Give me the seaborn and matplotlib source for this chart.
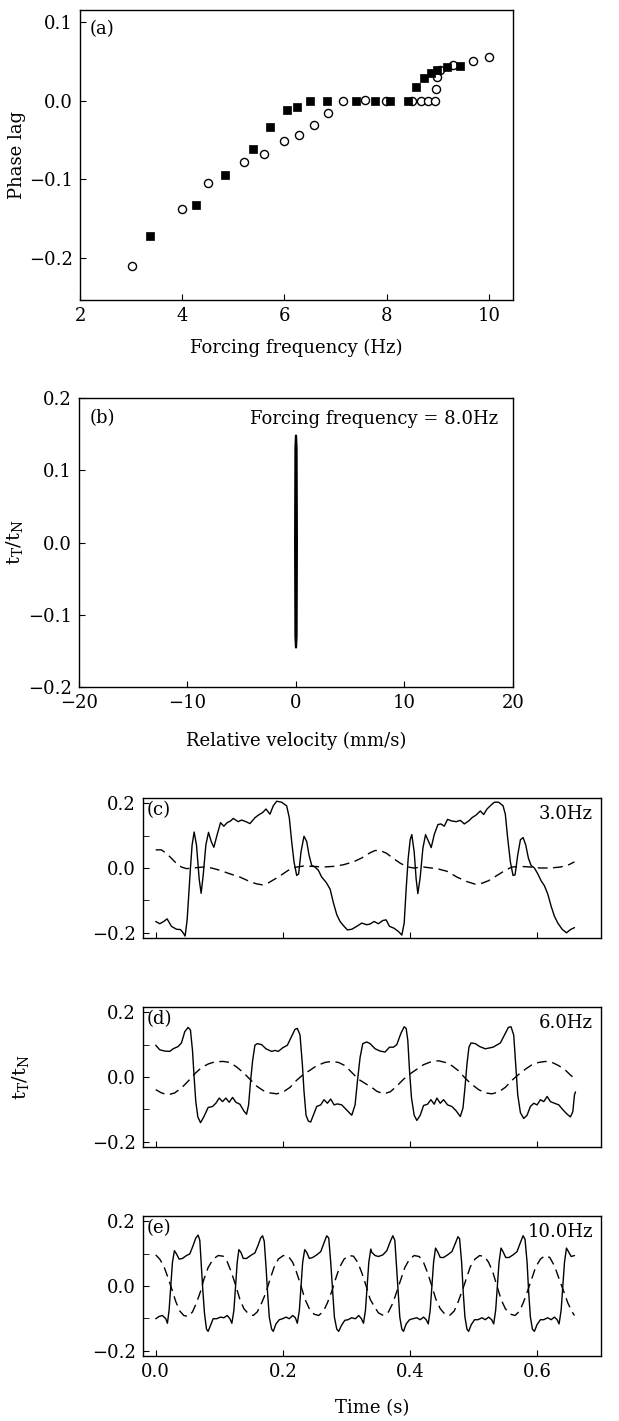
import numpy as np
import pandas as pd
import matplotlib
matplotlib.use("Agg")
import matplotlib.pyplot as plt
import seaborn as sns

# ---------------- data: panel (a) ----------------
freq_open = [3.01, 4.00, 4.50, 5.20, 5.60, 6.00, 6.28, 6.58, 6.85, 7.14, 7.58, 7.99,
             8.50, 8.67, 8.80, 8.94, 8.96, 8.98, 9.04, 9.30, 9.69, 10.00]
lag_open = [-0.210, -0.137, -0.104, -0.078, -0.068, -0.051, -0.043, -0.031, -0.016, 0.000,
            0.001, 0.000, 0.000, 0.000, 0.000, 0.000, 0.015, 0.030, 0.039, 0.045, 0.050, 0.055]
freq_filled = [3.37, 4.27, 4.83, 5.39, 5.71, 6.04, 6.25, 6.49, 6.83, 7.39, 7.77, 8.07,
               8.41, 8.57, 8.72, 8.86, 8.99, 9.17, 9.43]
lag_filled = [-0.172, -0.132, -0.095, -0.062, -0.033, -0.012, -0.008, 0.000, 0.000, 0.000,
              0.000, 0.000, 0.000, 0.017, 0.029, 0.035, 0.039, 0.043, 0.044]

# ---------------- data: panel (b) ----------------
vel_b = [0.00, 0.05, 0.08, 0.05, 0.00, -0.05, -0.08, -0.05, 0.00]
ratio_b = [-0.145, -0.130, 0.000, 0.130, 0.148, 0.130, 0.000, -0.130, -0.145]

# ---------------- data: panel (c) 3.0 Hz ----------------
t_c = [0.0000, 0.0063, 0.0126, 0.0179, 0.0247, 0.0326, 0.0389, 0.0431, 0.0462, 0.0494,
       0.0525, 0.0546, 0.0572, 0.0604, 0.0641, 0.0683, 0.0714, 0.0746, 0.0788, 0.0830,
       0.0872, 0.0914, 0.0966, 0.1019, 0.1071, 0.1124, 0.1176, 0.1218, 0.1297, 0.1349,
       0.1418, 0.1481, 0.1559, 0.1612, 0.1680, 0.1733, 0.1796, 0.1848, 0.1901, 0.1979,
       0.2058, 0.2100, 0.2137, 0.2174, 0.2216, 0.2247, 0.2284, 0.2331, 0.2373, 0.2410,
       0.2452, 0.2504, 0.2557, 0.2609, 0.2678, 0.2741, 0.2793, 0.2846, 0.2898, 0.2961,
       0.3014, 0.3082, 0.3161, 0.3239, 0.3318,
       0.3370, 0.3433, 0.3501, 0.3570, 0.3622, 0.3675, 0.3748, 0.3816, 0.3869, 0.3906,
       0.3937, 0.3969, 0.4000, 0.4026, 0.4063, 0.4094, 0.4121, 0.4158, 0.4200, 0.4242,
       0.4289, 0.4331, 0.4378, 0.4436, 0.4483, 0.4536, 0.4588, 0.4656, 0.4725, 0.4788,
       0.4851, 0.4919, 0.4971, 0.5040, 0.5103, 0.5155, 0.5208, 0.5260, 0.5323, 0.5391,
       0.5460, 0.5496, 0.5533, 0.5575, 0.5617, 0.5649, 0.5691, 0.5733, 0.5775, 0.5817,
       0.5859, 0.5901, 0.5953, 0.6006, 0.6058, 0.6111, 0.6163, 0.6216, 0.6268, 0.6321,
       0.6389, 0.6457, 0.6520, 0.6583]
solid_c = [-0.165, -0.172, -0.165, -0.157, -0.180, -0.189, -0.190, -0.200, -0.210, -0.160,
           -0.065, 0.000, 0.071, 0.111, 0.071, -0.034, -0.078, -0.023, 0.071, 0.110,
           0.082, 0.064, 0.103, 0.140, 0.129, 0.140, 0.145, 0.153, 0.143, 0.148,
           0.143, 0.137, 0.155, 0.163, 0.171, 0.182, 0.166, 0.192, 0.206, 0.203,
           0.192, 0.155, 0.082, 0.019, -0.023, -0.018, 0.050, 0.098, 0.082, 0.040,
           0.008, 0.003, -0.007, -0.028, -0.044, -0.065, -0.107, -0.144, -0.165, -0.180,
           -0.191, -0.189, -0.180, -0.170, -0.175,
           -0.173, -0.165, -0.172, -0.162, -0.160, -0.180, -0.186, -0.196, -0.207, -0.170,
           -0.065, 0.030, 0.087, 0.103, 0.050, -0.034, -0.079, -0.028, 0.061, 0.103,
           0.082, 0.063, 0.103, 0.134, 0.136, 0.129, 0.150, 0.145, 0.143, 0.147,
           0.136, 0.145, 0.155, 0.164, 0.176, 0.165, 0.182, 0.192, 0.203, 0.203,
           0.192, 0.166, 0.092, 0.019, -0.023, -0.021, 0.040, 0.087, 0.094, 0.071,
           0.030, 0.008, 0.000, -0.018, -0.039, -0.055, -0.080, -0.118, -0.149, -0.170,
           -0.189, -0.200, -0.190, -0.184]
t_c_dash = [0.0000, 0.0089, 0.0168, 0.0247, 0.0326, 0.0404, 0.0483, 0.0588, 0.0746, 0.0877,
            0.1008, 0.1166, 0.1323, 0.1481, 0.1586, 0.1680, 0.1769, 0.1874, 0.1979, 0.2084,
            0.2189, 0.2321, 0.2478, 0.2636, 0.2793, 0.2951, 0.3108, 0.3239,
            0.3370, 0.3449, 0.3528, 0.3633, 0.3738, 0.3843, 0.3948, 0.4053, 0.4210, 0.4420,
            0.4578, 0.4735, 0.4893, 0.5024, 0.5129, 0.5234, 0.5365, 0.5496, 0.5601, 0.5733,
            0.5890, 0.6048, 0.6205, 0.6363, 0.6494, 0.6583]
dash_c = [0.056, 0.056, 0.045, 0.030, 0.014, 0.003, -0.002, 0.000, 0.003, 0.000,
          -0.007, -0.018, -0.028, -0.042, -0.049, -0.052, -0.046, -0.034, -0.021, -0.007,
          0.002, 0.006, 0.005, 0.003, 0.005, 0.010, 0.019, 0.031,
          0.047, 0.054, 0.054, 0.045, 0.029, 0.015, 0.004, 0.000, 0.003, -0.002,
          -0.010, -0.028, -0.042, -0.050, -0.047, -0.039, -0.023, -0.007, 0.003, 0.005,
          0.003, 0.000, 0.000, 0.003, 0.010, 0.019]

# ---------------- data: panel (d) 6.0 Hz ----------------
t_d = [0.0000, 0.0063, 0.0142, 0.0221, 0.0273, 0.0352, 0.0404, 0.0457, 0.0509, 0.0546,
       0.0578, 0.0604, 0.0630, 0.0662, 0.0704, 0.0756, 0.0824, 0.0893, 0.0945, 0.0998,
       0.1050, 0.1103, 0.1155, 0.1208, 0.1260, 0.1323, 0.1386, 0.1428, 0.1460, 0.1491,
       0.1523, 0.1559, 0.1596, 0.1664, 0.1733, 0.1822, 0.1874, 0.1927, 0.1995, 0.2069,
       0.2137, 0.2189, 0.2226, 0.2268, 0.2305, 0.2331, 0.2363, 0.2399, 0.2436, 0.2478,
       0.2531, 0.2594, 0.2646, 0.2699, 0.2751, 0.2804, 0.2856, 0.2924, 0.3003, 0.3082,
       0.3134, 0.3171, 0.3213, 0.3255, 0.3318,
       0.3370, 0.3449, 0.3528, 0.3606, 0.3675, 0.3738, 0.3790, 0.3853, 0.3906, 0.3937,
       0.3963, 0.3990, 0.4021, 0.4063, 0.4105, 0.4158, 0.4210, 0.4273, 0.4326, 0.4378,
       0.4420, 0.4473, 0.4525, 0.4588, 0.4656, 0.4725, 0.4788, 0.4830, 0.4861, 0.4893,
       0.4924, 0.4956, 0.5024, 0.5092, 0.5181, 0.5250, 0.5302, 0.5355, 0.5418, 0.5481,
       0.5544, 0.5586, 0.5628, 0.5659, 0.5691, 0.5733, 0.5785, 0.5838, 0.5890, 0.5943,
       0.5995, 0.6048, 0.6100, 0.6153, 0.6205, 0.6268, 0.6336, 0.6405, 0.6468, 0.6520,
       0.6557, 0.6583, 0.6599]
solid_d = [0.098, 0.084, 0.080, 0.079, 0.087, 0.094, 0.105, 0.140, 0.153, 0.145,
           0.082, -0.002, -0.076, -0.123, -0.141, -0.123, -0.094, -0.091, -0.081, -0.065,
           -0.076, -0.065, -0.078, -0.063, -0.078, -0.084, -0.105, -0.115, -0.086, -0.013,
           0.050, 0.098, 0.103, 0.100, 0.087, 0.079, 0.082, 0.079, 0.090, 0.098,
           0.126, 0.147, 0.150, 0.130, 0.040, -0.044, -0.118, -0.136, -0.139, -0.118,
           -0.091, -0.086, -0.070, -0.081, -0.068, -0.086, -0.083, -0.086, -0.102, -0.118,
           -0.086, -0.013, 0.061, 0.103, 0.108,
           0.103, 0.087, 0.080, 0.077, 0.092, 0.092, 0.100, 0.134, 0.155, 0.150,
           0.113, 0.019, -0.065, -0.118, -0.134, -0.118, -0.088, -0.084, -0.070, -0.084,
           -0.065, -0.081, -0.070, -0.086, -0.091, -0.105, -0.122, -0.096, -0.034, 0.040,
           0.092, 0.105, 0.103, 0.094, 0.087, 0.090, 0.092, 0.098, 0.105, 0.129,
           0.153, 0.155, 0.129, 0.040, -0.055, -0.110, -0.128, -0.118, -0.091, -0.081,
           -0.086, -0.070, -0.076, -0.060, -0.076, -0.081, -0.086, -0.102, -0.115, -0.123,
           -0.107, -0.055, -0.046]
t_d_dash = [0.0000, 0.0089, 0.0194, 0.0299, 0.0404, 0.0509, 0.0614, 0.0719, 0.0824, 0.0929,
            0.1061, 0.1166, 0.1271, 0.1376, 0.1481, 0.1586, 0.1691, 0.1796, 0.1901, 0.2006,
            0.2111, 0.2216, 0.2321, 0.2426, 0.2531, 0.2662, 0.2767, 0.2872, 0.2977, 0.3082,
            0.3187, 0.3318,
            0.3370, 0.3475, 0.3580, 0.3685, 0.3790, 0.3895, 0.4000, 0.4105, 0.4210, 0.4341,
            0.4446, 0.4551, 0.4656, 0.4761, 0.4866, 0.4971, 0.5076, 0.5181, 0.5286, 0.5391,
            0.5496, 0.5601, 0.5706, 0.5811, 0.5916, 0.6021, 0.6126, 0.6231, 0.6336, 0.6441,
            0.6520, 0.6583]
dash_d = [-0.039, -0.049, -0.055, -0.049, -0.034, -0.013, 0.010, 0.029, 0.040, 0.047,
          0.048, 0.045, 0.031, 0.014, -0.007, -0.028, -0.042, -0.049, -0.052, -0.046,
          -0.032, -0.010, 0.008, 0.021, 0.035, 0.045, 0.048, 0.045, 0.035, 0.014,
          -0.007, -0.023,
          -0.028, -0.044, -0.052, -0.046, -0.028, -0.007, 0.010, 0.024, 0.038, 0.048,
          0.050, 0.045, 0.035, 0.019, -0.004, -0.023, -0.039, -0.049, -0.052, -0.046,
          -0.032, -0.010, 0.008, 0.024, 0.038, 0.045, 0.048, 0.045, 0.035, 0.021,
          0.006, -0.004]

# ---------------- data: panel (e) 10.0 Hz ----------------
t_e = [0.0000, 0.0053, 0.0105, 0.0158, 0.0184, 0.0210, 0.0236, 0.0263, 0.0294, 0.0326,
       0.0368, 0.0420, 0.0483, 0.0536, 0.0588, 0.0630, 0.0667, 0.0693, 0.0714, 0.0740,
       0.0767, 0.0798, 0.0824, 0.0861, 0.0903, 0.0956, 0.1019, 0.1071, 0.1124, 0.1166,
       0.1197, 0.1229, 0.1255, 0.1281, 0.1307, 0.1339, 0.1376, 0.1428, 0.1491, 0.1559,
       0.1612, 0.1649, 0.1680, 0.1706, 0.1733, 0.1759, 0.1785, 0.1822, 0.1848, 0.1890,
       0.1943, 0.1995, 0.2048, 0.2100, 0.2153, 0.2195, 0.2226, 0.2258, 0.2284, 0.2310,
       0.2342, 0.2373, 0.2415, 0.2468, 0.2531, 0.2594, 0.2646, 0.2688, 0.2720, 0.2751,
       0.2783, 0.2809, 0.2846, 0.2877, 0.2919, 0.2972, 0.3024, 0.3077, 0.3140, 0.3192,
       0.3234, 0.3266, 0.3297, 0.3323, 0.3350, 0.3381,
       0.3396, 0.3449, 0.3501, 0.3570, 0.3633, 0.3685, 0.3727, 0.3759, 0.3785, 0.3811,
       0.3837, 0.3869, 0.3895, 0.3937, 0.3990, 0.4042, 0.4105, 0.4158, 0.4210, 0.4252,
       0.4284, 0.4315, 0.4341, 0.4368, 0.4399, 0.4431, 0.4473, 0.4525, 0.4588, 0.4656,
       0.4709, 0.4751, 0.4777, 0.4809, 0.4835, 0.4861, 0.4893, 0.4919, 0.4961, 0.5013,
       0.5066, 0.5129, 0.5181, 0.5234, 0.5281, 0.5313, 0.5344, 0.5370, 0.5397, 0.5428,
       0.5460, 0.5502, 0.5554, 0.5617, 0.5680, 0.5733, 0.5775, 0.5806, 0.5838, 0.5864,
       0.5890, 0.5922, 0.5953, 0.5995, 0.6048, 0.6100, 0.6163, 0.6216, 0.6268, 0.6310,
       0.6341, 0.6373, 0.6399, 0.6426, 0.6457, 0.6489, 0.6531, 0.6583]
solid_e = [-0.101, -0.094, -0.091, -0.101, -0.115, -0.075, 0.000, 0.073, 0.109, 0.099,
           0.083, 0.085, 0.094, 0.099, 0.125, 0.148, 0.157, 0.141, 0.073, -0.012,
           -0.085, -0.133, -0.140, -0.122, -0.101, -0.101, -0.096, -0.098, -0.091, -0.101,
           -0.115, -0.075, 0.000, 0.073, 0.112, 0.104, 0.085, 0.085, 0.094, 0.102,
           0.127, 0.148, 0.155, 0.138, 0.062, -0.022, -0.096, -0.133, -0.140, -0.117,
           -0.104, -0.101, -0.096, -0.101, -0.091, -0.098, -0.115, -0.075, 0.000, 0.073,
           0.112, 0.104, 0.085, 0.088, 0.096, 0.106, 0.133, 0.155, 0.148, 0.073,
           -0.022, -0.096, -0.133, -0.140, -0.122, -0.106, -0.104, -0.098, -0.101, -0.091,
           -0.101, -0.115, -0.075, 0.000, 0.073, 0.114,
           0.104, 0.094, 0.091, 0.096, 0.109, 0.136, 0.155, 0.141, 0.062, -0.022,
           -0.096, -0.133, -0.140, -0.117, -0.104, -0.101, -0.098, -0.104, -0.096, -0.104,
           -0.117, -0.075, 0.000, 0.073, 0.117, 0.106, 0.088, 0.088, 0.096, 0.106,
           0.131, 0.152, 0.146, 0.073, -0.022, -0.096, -0.133, -0.140, -0.119, -0.104,
           -0.104, -0.098, -0.104, -0.096, -0.104, -0.117, -0.075, 0.000, 0.073, 0.117,
           0.106, 0.088, 0.088, 0.096, 0.106, 0.134, 0.155, 0.144, 0.073, -0.022,
           -0.096, -0.133, -0.140, -0.119, -0.104, -0.104, -0.098, -0.104, -0.096, -0.104,
           -0.117, -0.075, 0.000, 0.073, 0.117, 0.106, 0.091, 0.094]
t_e_dash = [0.0000, 0.0063, 0.0126, 0.0194, 0.0247, 0.0315, 0.0378, 0.0441, 0.0509, 0.0578,
            0.0641, 0.0704, 0.0756, 0.0824, 0.0903, 0.0982, 0.1061, 0.1124, 0.1192, 0.1260,
            0.1323, 0.1386, 0.1454, 0.1533, 0.1596, 0.1664, 0.1733, 0.1796, 0.1859, 0.1927,
            0.2006, 0.2084, 0.2153, 0.2216, 0.2284, 0.2347, 0.2415, 0.2489, 0.2562, 0.2636,
            0.2699, 0.2767, 0.2825, 0.2888, 0.2961, 0.3035, 0.3108, 0.3176, 0.3239, 0.3308,
            0.3371, 0.3439,
            0.3501, 0.3580, 0.3659, 0.3727, 0.3790, 0.3853, 0.3916, 0.3990, 0.4063, 0.4142,
            0.4210, 0.4273, 0.4341, 0.4404, 0.4473, 0.4546, 0.4620, 0.4693, 0.4756, 0.4819,
            0.4882, 0.4945, 0.5019, 0.5092, 0.5166, 0.5234, 0.5302, 0.5365, 0.5428, 0.5496,
            0.5575, 0.5649, 0.5722, 0.5785, 0.5848, 0.5911, 0.5974, 0.6048, 0.6121, 0.6195,
            0.6268, 0.6336, 0.6405, 0.6478, 0.6546, 0.6583]
dash_e = [0.096, 0.083, 0.062, 0.025, -0.006, -0.048, -0.077, -0.091, -0.094, -0.080,
          -0.052, -0.017, 0.020, 0.057, 0.083, 0.094, 0.092, 0.075, 0.041, 0.000,
          -0.041, -0.070, -0.085, -0.091, -0.080, -0.053, -0.020, 0.020, 0.057, 0.083,
          0.094, 0.092, 0.073, 0.041, 0.000, -0.041, -0.070, -0.087, -0.091, -0.078,
          -0.052, -0.017, 0.020, 0.057, 0.083, 0.094, 0.092, 0.073, 0.041, 0.000,
          -0.041, -0.064,
          -0.083, -0.091, -0.080, -0.053, -0.017, 0.020, 0.057, 0.083, 0.094, 0.091,
          0.073, 0.041, 0.000, -0.041, -0.070, -0.087, -0.091, -0.077, -0.048, -0.014,
          0.022, 0.059, 0.083, 0.094, 0.091, 0.073, 0.041, 0.000, -0.041, -0.070,
          -0.087, -0.091, -0.077, -0.048, -0.014, 0.022, 0.059, 0.083, 0.094, 0.088,
          0.062, 0.025, -0.012, -0.052, -0.080, -0.091]

# ---------------- style ----------------
sns.set_style("white")
plt.rcParams.update({
    "font.family": ["DejaVu Serif"],
    "mathtext.fontset": "dejavuserif",
    "font.size": 13,
    "text.color": "black",
    "axes.labelcolor": "black",
    "axes.edgecolor": "black",
    "axes.linewidth": 1.0,
    "xtick.direction": "in",
    "ytick.direction": "in",
    "xtick.major.size": 4,
    "ytick.major.size": 4,
    "xtick.minor.size": 2.5,
    "ytick.minor.size": 2.5,
    "xtick.color": "black",
    "ytick.color": "black",
    "xtick.labelcolor": "black",
    "ytick.labelcolor": "black",
    "xtick.labelsize": 13,
    "ytick.labelsize": 13,
    "xtick.bottom": True,
    "ytick.left": True,
})

W, H = 619, 1421
fig = plt.figure(figsize=(W / 100, H / 100), dpi=100)


def box(l, t, r, b):
    return [l / W, 1 - b / H, (r - l) / W, (b - t) / H]


ax_a = fig.add_axes(box(80, 10, 513, 300))
ax_b = fig.add_axes(box(79, 398, 513, 687))
ax_c = fig.add_axes(box(143, 798, 601, 938))
ax_d = fig.add_axes(box(143, 1007, 601, 1147))
ax_e = fig.add_axes(box(143, 1216, 601, 1356))

# ---- (a)
df_open = pd.DataFrame({"f": freq_open, "lag": lag_open})
df_fill = pd.DataFrame({"f": freq_filled, "lag": lag_filled})
sns.scatterplot(data=df_open, x="f", y="lag", ax=ax_a, marker="o", s=34,
                facecolor="white", edgecolor="black", linewidth=1.0, zorder=3)
sns.scatterplot(data=df_fill, x="f", y="lag", ax=ax_a, marker="s", s=26,
                color="black", edgecolor="black", linewidth=0.5, zorder=4)
ax_a.set_xlim(2, 10.47)
ax_a.set_ylim(-0.253, 0.115)
ax_a.set_xticks([2, 4, 6, 8, 10])
ax_a.set_yticks([-0.2, -0.1, 0.0, 0.1])
ax_a.set_yticklabels(["\u22120.2", "\u22120.1", "0.0", "0.1"])
ax_a.set_xlabel("Forcing frequency (Hz)", fontsize=13)
ax_a.set_ylabel("Phase lag", fontsize=13)
ax_a.yaxis.set_label_coords(-0.125, 0.5)
ax_a.xaxis.set_label_coords(0.5, -0.135)
ax_a.text(0.023, 0.965, "(a)", transform=ax_a.transAxes, ha="left", va="top", fontsize=13)

# ---- (b)
df_b = pd.DataFrame({"v": vel_b, "r": ratio_b})
sns.lineplot(data=df_b, x="v", y="r", ax=ax_b, sort=False, estimator=None,
             color="black", linewidth=1.6)
ax_b.set_xlim(-20, 20)
ax_b.set_ylim(-0.2, 0.2)
ax_b.set_xticks([-20, -10, 0, 10, 20])
ax_b.set_xticklabels(["\u221220", "\u221210", "0", "10", "20"])
ax_b.set_yticks([-0.2, -0.1, 0.0, 0.1, 0.2])
ax_b.set_yticklabels(["\u22120.2", "\u22120.1", "0.0", "0.1", "0.2"])
ax_b.set_xlabel("Relative velocity (mm/s)", fontsize=13)
ax_b.set_ylabel(r"$\mathregular{t_T/t_N}$", fontsize=14)
ax_b.yaxis.set_label_coords(-0.125, 0.5)
ax_b.xaxis.set_label_coords(0.5, -0.155)
ax_b.text(0.025, 0.96, "(b)", transform=ax_b.transAxes, ha="left", va="top", fontsize=13)
ax_b.text(0.965, 0.96, "Forcing frequency = 8.0Hz", transform=ax_b.transAxes,
          ha="right", va="top", fontsize=13)

# ---- (c), (d), (e)
panels = [
    (ax_c, t_c, solid_c, t_c_dash, dash_c, "(c)", "3.0Hz"),
    (ax_d, t_d, solid_d, t_d_dash, dash_d, "(d)", "6.0Hz"),
    (ax_e, t_e, solid_e, t_e_dash, dash_e, "(e)", "10.0Hz"),
]
for ax, ts, ys, td, yd, tag, hz in panels:
    sns.lineplot(x=ts, y=ys, ax=ax, sort=False, estimator=None,
                 color="black", linewidth=1.0)
    sns.lineplot(x=td, y=yd, ax=ax, sort=False, estimator=None,
                 color="black", linewidth=1.0, dashes=False)
    ax.lines[-1].set_dashes((7, 4))
    ax.set_xlim(-0.02, 0.70)
    ax.set_ylim(-0.216, 0.216)
    ax.set_xticks([0.0, 0.2, 0.4, 0.6])
    ax.set_yticks([-0.2, 0.0, 0.2])
    ax.set_yticks([-0.1, 0.1], minor=True)
    ax.set_yticklabels(["\u22120.2", "0.0", "0.2"])
    ax.tick_params(axis="y", which="minor", left=True, length=4)
    ax.text(0.008, 0.975, tag, transform=ax.transAxes, ha="left", va="top", fontsize=13)
    ax.text(0.982, 0.95, hz, transform=ax.transAxes, ha="right", va="top", fontsize=13)
    ax.set_xlabel("")
    ax.set_ylabel("")

ax_c.set_xticklabels([])
ax_d.set_xticklabels([])
ax_e.set_xticklabels(["0.0", "0.2", "0.4", "0.6"])
ax_e.set_xlabel("Time (s)", fontsize=13)
ax_e.xaxis.set_label_coords(0.5, -0.31)
ax_d.set_ylabel(r"$\mathregular{t_T/t_N}$", fontsize=14)
ax_d.yaxis.set_label_coords(-0.245, 0.5)

for ax in [ax_a, ax_b, ax_c, ax_d, ax_e]:
    for s in ax.spines.values():
        s.set_visible(True)
        s.set_color("black")
        s.set_linewidth(1.0)
    ax.tick_params(top=False, right=False, pad=5)

fig.savefig("out.png", dpi=100, facecolor="white")
